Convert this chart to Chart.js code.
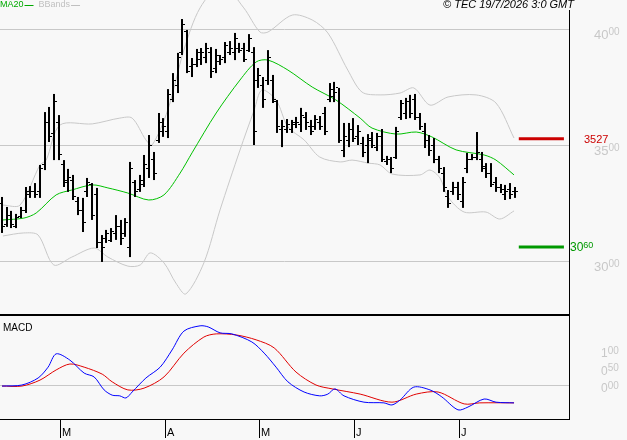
<!DOCTYPE html>
<html><head><meta charset="utf-8">
<script src="https://cdn.jsdelivr.net/npm/chart.js@4/dist/chart.umd.min.js"></script>
<style>
html,body{margin:0;padding:0;background:#f8f8f8;}
#wrap{position:relative;width:627px;height:440px;background:#f8f8f8;}
canvas{position:absolute;left:0;}
#c1{top:0;} #c2{top:316px;}
</style></head><body>
<div id="wrap"><canvas id="c1" width="627" height="316"></canvas><canvas id="c2" width="627" height="124"></canvas></div>
<script>
// ---- price bars ----
const highs=[3276,3233,3216,3203,3233,3319,3323,3336,3414,3642,3664,3720,3629,3435,3397,3371,3276,3272,3358,3336,3315,3112,3134,3142,3198,3177,3185,3427,3349,3371,3457,3543,3470,3638,3616,3741,3810,3897,4043,3996,3875,3914,3918,3940,3922,3914,3888,3944,3948,3983,3940,3940,3978,3922,3832,3793,3909,3802,3694,3608,3612,3608,3621,3660,3642,3608,3629,3625,3664,3767,3772,3746,3595,3595,3616,3586,3535,3547,3556,3552,3569,3453,3448,3578,3694,3703,3716,3720,3638,3595,3543,3530,3453,3405,3306,3341,3341,3362,3466,3461,3556,3470,3422,3422,3362,3332,3328,3336,3319];
const lows=[3121,3147,3142,3142,3185,3207,3272,3272,3272,3392,3513,3435,3435,3319,3298,3263,3198,3125,3276,3177,3056,2996,3078,3082,3091,3069,3104,3017,3276,3298,3319,3358,3349,3509,3535,3530,3685,3724,3888,3810,3793,3836,3845,3853,3789,3810,3845,3853,3888,3866,3897,3858,3901,3500,3746,3660,3759,3681,3552,3491,3552,3552,3573,3556,3565,3543,3565,3565,3543,3685,3685,3509,3448,3491,3513,3500,3448,3422,3487,3474,3427,3414,3379,3440,3608,3612,3616,3608,3565,3487,3453,3422,3379,3298,3229,3285,3263,3229,3379,3435,3435,3384,3358,3319,3298,3293,3263,3267,3272];
const opens=[3250,3160,3200,3150,3195,3220,3290,3300,3300,3420,3600,3550,3600,3420,3340,3350,3260,3220,3300,3330,3290,3080,3100,3090,3120,3150,3120,3060,3340,3310,3330,3400,3440,3520,3560,3560,3700,3760,3900,3990,3840,3850,3870,3880,3900,3830,3860,3880,3900,3900,3920,3920,3910,3900,3780,3760,3780,3780,3690,3570,3570,3570,3590,3590,3620,3580,3580,3600,3640,3700,3710,3750,3480,3520,3570,3540,3510,3500,3520,3490,3540,3430,3440,3450,3620,3640,3690,3700,3620,3560,3520,3500,3440,3380,3280,3300,3320,3260,3400,3440,3450,3440,3410,3380,3340,3320,3290,3310,3300];
const closes=[3150,3200,3160,3190,3220,3300,3300,3290,3400,3600,3540,3690,3460,3350,3360,3280,3220,3170,3340,3200,3080,3060,3120,3130,3150,3100,3170,3400,3300,3350,3420,3500,3380,3600,3580,3720,3780,3880,4020,3820,3850,3900,3900,3920,3820,3890,3870,3930,3920,3960,3910,3870,3960,3560,3800,3700,3880,3700,3580,3580,3590,3600,3600,3630,3600,3560,3610,3580,3560,3740,3730,3520,3540,3570,3530,3560,3470,3530,3500,3540,3440,3440,3400,3560,3680,3690,3640,3620,3580,3520,3480,3440,3400,3320,3250,3320,3290,3340,3440,3450,3470,3400,3380,3330,3320,3310,3300,3290,3300];
// ---- indicators (bar index, value) ----
const maIdx=[0.2,4.6,7.2,11.4,14.7,19,22.3,26.5,30.9,34.1,37.5,40,45.1,50.1,53.5,56,60.2,65.3,70.3,75.4,77.9,83,87.2,90.5,95.6,101.5,104,107.8];
const maVal=[3177,3185,3207,3285,3306,3328,3315,3293,3263,3285,3379,3466,3638,3780,3858,3866,3823,3750,3694,3616,3573,3547,3556,3535,3479,3457,3435,3371];
const bbUpIdx=[0.2,3.8,8,9.3,12.2,19,24.8,27.4,30.3,31.6,34.9,38.3,41.7,46.3,50.9,54.3,56,61.1,65.3,68.6,72.8,75.8,79.6,83.8,86.7,90.1,93.9,99.8,104,107.8];
const bbUpVal=[3241,3241,3414,3435,3586,3591,3616,3616,3522,3500,3651,3910,4091,4190,4091,3987,3987,4060,4039,3983,3823,3728,3716,3724,3746,3672,3707,3716,3681,3530];
const bbLoIdx=[0.2,4.6,7.6,10.9,14.7,19.4,22.3,26.5,29.1,31.2,34.1,36.6,38.7,42.5,45.9,50.1,53.1,54.7,57.7,60.2,63.6,66.9,71.2,73.7,77.1,79.6,82.1,88,90.1,92.2,93.9,97.3,101.9,104.8,107.8];
const bbLoVal=[3108,3121,3112,2983,3017,3056,3017,2978,2983,3035,2992,2905,2858,2992,3220,3478,3651,3737,3694,3578,3522,3448,3427,3435,3422,3414,3375,3371,3392,3358,3276,3211,3211,3181,3216];
const macdIdx=[0,4.2,7.6,9.7,11.4,14.3,17.3,19.4,21.5,23.2,24.8,26.1,27.4,30.3,33.3,35.8,38.3,41.7,43.4,45.9,48.4,52.6,55.2,57.7,60.2,63.6,66.9,68.6,70.1,72,76.2,80.4,82.1,83.8,86.7,90.1,92.6,96,98.1,101.5,104,107.8];
const macdVal=[-0.03,0,0.2,0.51,0.89,0.71,0.34,0.23,-0.14,-0.29,-0.31,-0.37,-0.2,0.2,0.51,1.0,1.54,1.69,1.66,1.49,1.46,1.23,0.91,0.51,0.09,-0.2,-0.31,-0.26,-0.11,-0.31,-0.49,-0.51,-0.57,-0.43,-0.06,-0.14,-0.34,-0.71,-0.63,-0.4,-0.49,-0.51];
const sigIdx=[0,4.2,8,11.4,14.3,17.3,21.1,23.2,26.5,29.9,34.1,38.3,42.5,45.1,49.3,53.5,57.3,61.9,66.1,69.5,75.4,82.1,87.2,91.8,97.3,100.6,107.8];
const sigVal=[-0.03,-0.03,0.14,0.43,0.6,0.51,0.31,0.09,-0.14,-0.09,0.23,0.91,1.37,1.46,1.43,1.29,1.06,0.37,0,-0.11,-0.26,-0.49,-0.26,-0.2,-0.54,-0.51,-0.51];
// ---- levels and ticks ----
const resistance=3527, support=3060;
const levelFrom=108.8, levelTo=118.3;
const priceTicks=[3000,3500,4000];
const macdTicks=[0,0.5,1.0];
const monthIdx=[12.2,34.3,54.1,74.1,96.2];
const monthLabels=['M','A','M','J','J'];

const pts=(a,b)=>a.map((x,i)=>({x:x,y:b[i]}));
const FONT='"Liberation Sans", Arial, sans-serif';
const lineDs=(data,color)=>({type:'line',data,borderColor:color,borderWidth:1,pointRadius:0,tension:0.3,fill:false});
const xScale={type:'linear',min:-0.42,max:119.37,display:false};

function supText(ctx,big,small,x,y,color,bigSize,smallSize){
  ctx.fillStyle=color;ctx.font=bigSize+'px '+FONT;ctx.textBaseline='middle';ctx.textAlign='left';
  ctx.fillText(big,x,y);const w=ctx.measureText(big).width;
  ctx.font=smallSize+'px '+FONT;ctx.fillText(small,x+w,y-3);
}

const pricePlugin={id:'p',
 beforeDatasetsDraw(ch){const c=ch.ctx,y=ch.scales.y,a=ch.chartArea;
  c.save();c.strokeStyle='#c8c8c8';c.lineWidth=1;
  priceTicks.forEach(v=>{const py=Math.round(y.getPixelForValue(v))+0.5;c.beginPath();c.moveTo(0,py);c.lineTo(a.right,py);c.stroke();});
  c.restore();},
 afterDatasetsDraw(ch){const c=ch.ctx,x=ch.scales.x,y=ch.scales.y,a=ch.chartArea;
  c.save();c.fillStyle='#000';
  highs.forEach((h,i)=>{const px=Math.round(x.getPixelForValue(i));
    const yh=y.getPixelForValue(h),yl=y.getPixelForValue(lows[i]);
    c.fillRect(px-1,yh,2,yl-yh);
    c.fillRect(px-3,Math.round(y.getPixelForValue(opens[i])),2,1);
    c.fillRect(px+1,Math.round(y.getPixelForValue(closes[i])),2,1);});
  c.fillRect(a.right,10,1,316);
  c.fillRect(0,314,a.right,2);
  priceTicks.forEach(v=>{const s=String(v);supText(c,s.slice(0,2),s.slice(2),594,y.getPixelForValue(v)+6,'#c8c8c8',13,10);});
  c.fillStyle='#cc0000';c.font='11px '+FONT;c.textBaseline='middle';c.fillText(String(resistance),584,y.getPixelForValue(resistance)+1);
  const s=String(support);supText(c,s.slice(0,2),s.slice(2),570,y.getPixelForValue(support)+1,'#009900',12,9);
  c.font='9px '+FONT;c.textBaseline='middle';c.textAlign='left';
  c.fillStyle='#00aa00';c.fillText('MA20',0,5);let w=c.measureText('MA20').width;
  c.fillRect(w+1,5,9,1);
  c.fillStyle='#c0c0c0';c.fillText('BBands',w+15,5);const w2=c.measureText('BBands').width;c.fillRect(w+16+w2,5,9,1);
  c.fillStyle='#000';c.font='italic 11px '+FONT;c.textAlign='right';c.fillText('© TEC 19/7/2026 3:0 GMT',574,5);
  c.restore();}
};
new Chart(document.getElementById('c1'),{
 data:{datasets:[
  lineDs(pts(bbUpIdx,bbUpVal),'#c8c8c8'),
  lineDs(pts(bbLoIdx,bbLoVal),'#c8c8c8'),
  lineDs(pts(maIdx,maVal),'#00c000'),
  {type:'line',data:[{x:levelFrom,y:resistance},{x:levelTo,y:resistance}],borderColor:'#cc0000',borderWidth:3,pointRadius:0},
  {type:'line',data:[{x:levelFrom,y:support},{x:levelTo,y:support}],borderColor:'#009900',borderWidth:3,pointRadius:0}
 ]},
 options:{responsive:false,animation:false,layout:{padding:{left:0,right:58,top:0,bottom:0}},
  plugins:{legend:{display:false},tooltip:{enabled:false}},
  scales:{x:xScale,y:{min:2763,max:4125,display:false}}},
 plugins:[pricePlugin]
});

const macdPlugin={id:'m',
 beforeDatasetsDraw(ch){const c=ch.ctx,y=ch.scales.y,a=ch.chartArea;
  c.save();c.fillStyle='#c8c8c8';c.fillRect(0,Math.round(y.getPixelForValue(0)),a.right,1);c.restore();},
 afterDatasetsDraw(ch){const c=ch.ctx,x=ch.scales.x,y=ch.scales.y,a=ch.chartArea;
  c.save();c.fillStyle='#000';
  c.fillRect(a.right,0,1,a.bottom+1);c.fillRect(0,a.bottom,a.right,1);
  c.font='10px '+FONT;c.textBaseline='middle';c.textAlign='left';c.fillText('MACD',3,12);
  monthIdx.forEach((v,i)=>{const px=Math.round(x.getPixelForValue(v));c.fillStyle='#000';c.fillRect(px,a.bottom+1,1,18);
    c.font='11px '+FONT;c.textBaseline='middle';c.fillText(monthLabels[i],px+2,a.bottom+14);});
  macdTicks.forEach(v=>{const s=v.toFixed(2).replace('.','');supText(c,s.slice(0,1),s.slice(1),601,y.getPixelForValue(v)+4,'#c8c8c8',12,10);});
  c.restore();}
};
new Chart(document.getElementById('c2'),{
 data:{datasets:[lineDs(pts(macdIdx,macdVal),'#0000ff'),lineDs(pts(sigIdx,sigVal),'#e00000')]},
 options:{responsive:false,animation:false,layout:{padding:{left:0,right:58,top:0,bottom:21}},
  plugins:{legend:{display:false},tooltip:{enabled:false}},
  scales:{x:xScale,y:{min:-0.971,max:1.971,display:false}}},
 plugins:[macdPlugin]
});
</script></body></html>
